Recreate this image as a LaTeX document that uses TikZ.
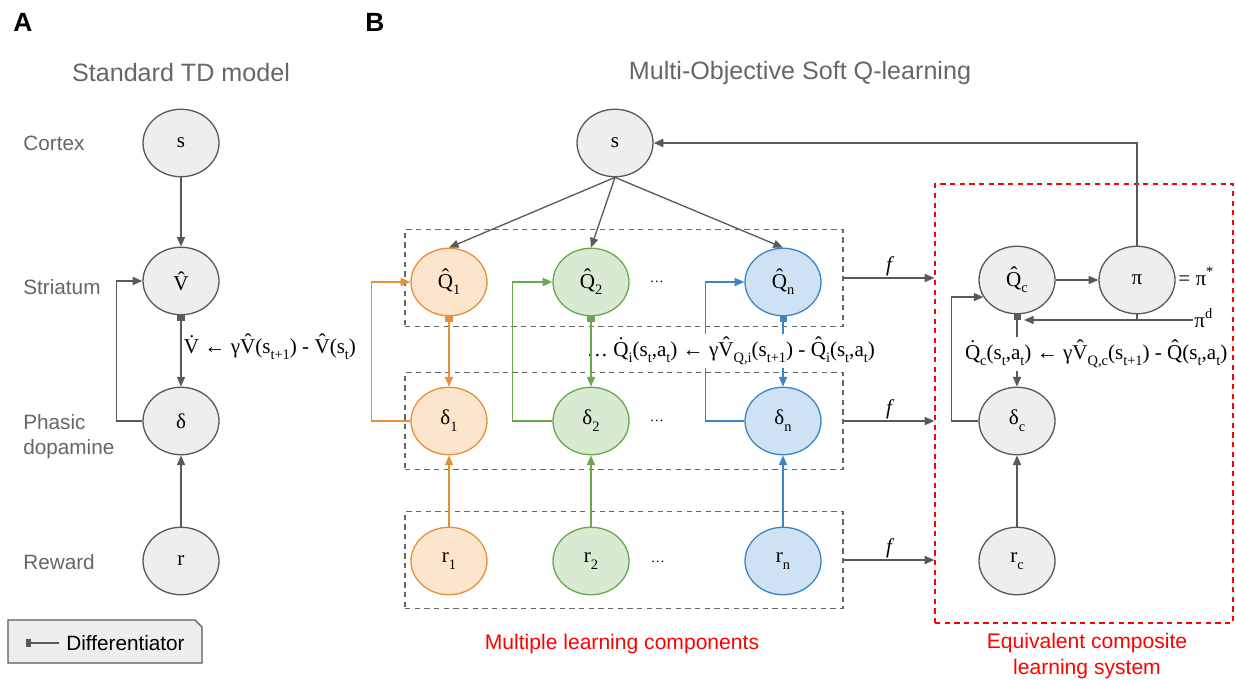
\documentclass[tikz,border=0pt]{standalone}
\usepackage{fontspec}
\setmainfont{Liberation Sans}
\newfontfamily\tm{Liberation Serif}
\usetikzlibrary{shapes.geometric,arrows.meta}
\definecolor{lg}{HTML}{595959}
\definecolor{tg}{HTML}{666666}
\definecolor{dg}{HTML}{666666}
\definecolor{nf}{HTML}{EEEEEE}
\definecolor{orD}{HTML}{E69138}
\definecolor{orF}{HTML}{FCE5CD}
\definecolor{grD}{HTML}{6AA84F}
\definecolor{grF}{HTML}{D9EAD3}
\definecolor{blD}{HTML}{3D85C6}
\definecolor{blF}{HTML}{CFE2F3}
\newcommand\sbx[1]{\raisebox{-0.32em}{\fontsize{8.2}{9}\selectfont #1}}
\newcommand\spx[1]{\raisebox{0.42em}{\fontsize{8.2}{9}\selectfont #1}}
\tikzset{
  ln/.style={draw=lg, line width=0.75pt},
  arr/.style={ln, -{Triangle[length=5.5pt,width=4.6pt]}},
  dif/.style={ln, {Square[length=3pt,width=4pt]}-{Triangle[length=5.5pt,width=4.6pt]}},
  nd/.style={ellipse, minimum width=1.52cm, minimum height=1.35cm, inner sep=0pt, line width=0.75pt, font=\tm\fontsize{12}{14}\selectfont},
  gnode/.style={nd, draw=lg, fill=nf},
  onode/.style={nd, draw=orD, fill=orF},
  grnode/.style={nd, draw=grD, fill=grF},
  bnode/.style={nd, draw=blD, fill=blF},
  rowlbl/.style={font=\fontsize{11.8}{14.2}\selectfont, text=tg, anchor=west, align=left, inner sep=0pt},
  ttl/.style={font=\fontsize{14.3}{16}\selectfont, text=tg},
  eqn/.style={font=\tm\fontsize{12}{14}\selectfont, fill=white, inner sep=1.5pt},
  dbox/.style={draw=dg, dash pattern=on 3pt off 2.5pt, line width=0.75pt, minimum width=8.76cm, minimum height=1.94cm, inner sep=0pt},
  rbox/.style={draw=red, dash pattern=on 3pt off 2.5pt, line width=0.75pt, minimum width=5.96cm, minimum height=8.78cm, inner sep=0pt},
  dots/.style={font=\tm\fontsize{8}{9}\selectfont},
  fl/.style={font=\tm\itshape\fontsize{12}{14}\selectfont, above=1pt, inner sep=0pt, midway},
  redtxt/.style={font=\fontsize{12}{15}\selectfont, text=red, align=center}
}
\begin{document}
\begin{tikzpicture}[x=0.02cm,y=-0.02cm]
\useasboundingbox (0,0) rectangle (1236,679);
% panel letters and titles
\node[font=\bfseries\fontsize{15}{17}\selectfont] (lA) at (23,22) {A};
\node[font=\bfseries\fontsize{15}{17}\selectfont] (lB) at (375,22) {B};
\node[ttl] (tA) at (181,73) {Standard TD model};
\node[ttl] (tB) at (800,73) {Multi-Objective Soft Q-learning};
% row labels
\node[rowlbl] (c1) at (23,143) {Cortex};
\node[rowlbl] (c2) at (23,287) {Striatum};
\node[rowlbl] (c3) at (23,437) {Phasic\\dopamine};
\node[rowlbl] (c4) at (23,562) {Reward};
% panel A
\node[gnode] (sA) at (181,143) {s};
\node[gnode] (VA) at (181,281) {V̂};
\node[gnode] (dA) at (181,421) {δ};
\node[gnode] (rA) at (181,561) {r};
\draw[arr] (sA.south) -- (VA.north);
\draw[dif] (VA.south) -- (dA.north);
\draw[arr] (rA.north) -- (dA.south);
\draw[arr] (dA.west) -- ++(-26,0) |- (VA.west);
\node[eqn, anchor=base west, fill=none] (eqA) at (181,353) {V̇ ← γV̂(s\sbx{t+1}) - V̂(s\sbx{t})};
% legend
\draw[draw=lg, fill=nf, line width=0.75pt] (8,620) -- (195,620) -- (202,627) -- (202,663) -- (8,663) -- cycle;
\coordinate (lg1) at (26,643);
\coordinate (lg2) at (59,643);
\draw[ln, {Square[length=3pt,width=4pt]}-] (lg1) -- (lg2);
\node[anchor=west, font=\fontsize{11.8}{14}\selectfont, inner sep=0pt] (lgt) at (66,643) {Differentiator};
% panel B boxes
\node[dbox] (bQ) at (624,278) {};
\node[dbox] (bD) at (624,421) {};
\node[dbox] (bR) at (624,560) {};
\node[rbox] (bC) at (1084,403.5) {};
% panel B nodes
\node[gnode] (sB) at (615,143) {s};
\node[onode] (Q1) at (449,282) {Q̂\sbx{1}};
\node[grnode] (Q2) at (591,282) {Q̂\sbx{2}};
\node[bnode] (Qn) at (783,282) {Q̂\sbx{n}};
\node[onode] (d1) at (449,421) {δ\sbx{1}};
\node[grnode] (d2) at (591,421) {δ\sbx{2}};
\node[bnode] (dn) at (783,421) {δ\sbx{n}};
\node[onode] (r1) at (449,561) {r\sbx{1}};
\node[grnode] (r2) at (591,561) {r\sbx{2}};
\node[bnode] (rn) at (783,561) {r\sbx{n}};
\node[dots] (e1) at (657,282) {…};
\node[dots] (e2) at (657,421) {…};
\node[dots] (e3) at (658,562) {…};
\node[gnode] (Qc) at (1017,280) {Q̂\sbx{c}};
\node[gnode] (pi) at (1137,280) {π};
\node[gnode] (dc) at (1017,421) {δ\sbx{c}};
\node[gnode] (rc) at (1017,561) {r\sbx{c}};
% s to Q
\draw[arr] (sB.south) -- (Q1.north);
\draw[arr] (sB.south) -- (Q2.north);
\draw[arr] (sB.south) -- (Qn.north);
% orange column
\draw[dif, draw=orD] (Q1.south) -- (d1.north);
\draw[arr, draw=orD] (r1.north) -- (d1.south);
\draw[arr, draw=orD] (d1.west) -- ++(-39,0) |- (Q1.west);
% blue column
\draw[dif, draw=blD] (Qn.south) -- (dn.north);
\draw[arr, draw=blD] (rn.north) -- (dn.south);
\draw[arr, draw=blD] (dn.west) -- ++(-39,0) |- (Qn.west);
% green loop and input
\draw[arr, draw=grD] (r2.north) -- (d2.south);
\draw[arr, draw=grD] (d2.west) -- ++(-40,0) |- (Q2.west);
\node[eqn, anchor=base west] (eqB) at (584,356) {… Q̇\sbx{i}(s\sbx{t},a\sbx{t}) ← γV̂\sbx{Q,i}(s\sbx{t+1}) - Q̂\sbx{i}(s\sbx{t},a\sbx{t})};
\draw[dif, draw=grD] (Q2.south) -- (d2.north);
% f arrows
\draw[arr] (bQ.east) -- (bQ.east -| bC.west) node[fl] {f};
\draw[arr] (bD.east) -- (bD.east -| bC.west) node[fl] {f};
\draw[arr] (bR.east) -- (bR.east -| bC.west) node[fl] {f};
% composite system
\draw[arr] (Qc.east) -- (pi.west);
\draw[arr] (pi.north) |- (sB.east);
\coordinate (pdl) at (1193,320);
\coordinate (qcin) at (1024,320);
\draw[ln] (pi.south) -- (pi.south |- pdl);
\draw[arr] (pdl) -- (qcin);
\node[anchor=west, font=\tm\fontsize{12}{14}\selectfont, inner sep=0pt] (pid) at (1194,318) {π\spx{d}};
\node[anchor=west, font=\tm\fontsize{12}{14}\selectfont, inner sep=0pt] (pis) at (1178,276) {= π\spx{*}};
\draw[dif] (Qc.south) -- (dc.north);
\draw[arr] (rc.north) -- (dc.south);
\draw[arr] (dc.west) -- ++(-27,0) |- (Qc.207);
\node[eqn, anchor=base west] (eqC) at (962,359) {Q̇\sbx{c}(s\sbx{t},a\sbx{t}) ← γV̂\sbx{Q,c}(s\sbx{t+1}) - Q̂(s\sbx{t},a\sbx{t})};
% captions
\node[redtxt] (cap1) at (622,644) {Multiple learning components};
\node[redtxt] (cap2) at (1087,656) {Equivalent composite\\learning system};
\end{tikzpicture}
\end{document}
